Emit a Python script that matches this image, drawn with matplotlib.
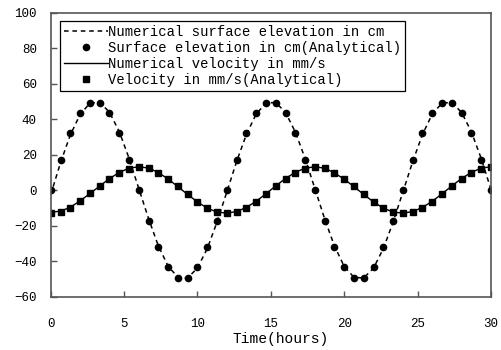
import matplotlib
matplotlib.use("Agg")
import matplotlib.pyplot as plt

plt.rcParams['font.family'] = ['Liberation Mono', 'DejaVu Sans Mono']

# time axis (hours), sampled every 40 minutes
hours = [0, 0.67, 1.33, 2, 2.67, 3.33, 4, 4.67, 5.33, 6, 6.67, 7.33, 8, 8.67, 9.33, 10,
         10.67, 11.33, 12, 12.67, 13.33, 14, 14.67, 15.33, 16, 16.67, 17.33, 18, 18.67,
         19.33, 20, 20.67, 21.33, 22, 22.67, 23.33, 24, 24.67, 25.33, 26, 26.67, 27.33,
         28, 28.67, 29.33, 30]

# analytical surface elevation (cm)
elev_ana = [0, 17.1, 32.1, 43.3, 49.2, 49.2, 43.3, 32.1, 17.1, 0, -17.1, -32.1, -43.3,
            -49.2, -49.2, -43.3, -32.1, -17.1, 0, 17.1, 32.1, 43.3, 49.2, 49.2, 43.3,
            32.1, 17.1, 0, -17.1, -32.1, -43.3, -49.2, -49.2, -43.3, -32.1, -17.1, 0,
            17.1, 32.1, 43.3, 49.2, 49.2, 43.3, 32.1, 17.1, 0]
# numerical surface elevation (cm)
elev_num = [-2.5, 15.5, 31.0, 42.6, 49.0, 49.5, 44.0, 33.0, 18.2, 1.0, -16.0, -31.2,
            -42.8, -49.0, -49.4, -43.8, -32.8, -18.0, -1.0, 16.2, 31.3, 42.9, 49.1,
            49.4, 43.8, 32.8, 18.0, 1.0, -16.2, -31.3, -42.9, -49.1, -49.4, -43.8,
            -32.8, -18.0, -1.0, 16.2, 31.3, 42.9, 49.1, 49.4, 43.8, 32.8, 18.0, 0.5]

# analytical velocity (mm/s)
vel_ana = [-12.6, -12.0, -9.9, -6.2, -1.8, 2.1, 6.4, 9.9, 12.2, 13.3, 12.4, 9.9, 6.4,
           2.2, -2.2, -6.4, -9.9, -12.1, -12.8, -12.1, -9.9, -6.4, -2.2, 2.2, 6.4, 9.9,
           12.2, 13.3, 12.4, 9.9, 6.4, 2.2, -2.2, -6.4, -9.9, -12.1, -12.8, -12.1, -9.9,
           -6.4, -2.2, 2.2, 6.4, 9.9, 12.2, 13.3]
# numerical velocity (mm/s)
vel_num = [-12.4, -11.8, -9.6, -6.0, -1.9, 2.3, 6.5, 10.0, 12.4, 13.2, 12.5, 10.0, 6.3,
           2.0, -2.4, -6.6, -10.1, -12.3, -12.9, -12.0, -9.7, -6.2, -2.0, 2.4, 6.6, 10.1,
           12.4, 13.2, 12.4, 9.8, 6.2, 2.0, -2.4, -6.6, -10.1, -12.3, -12.9, -12.0, -9.7,
           -6.2, -2.0, 2.4, 6.6, 10.1, 12.4, 13.2]

labels = ['Numerical surface elevation in cm',
          'Surface elevation in cm(Analytical)',
          'Numerical velocity in mm/s',
          'Velocity in mm/s(Analytical)']

fig = plt.figure(figsize=(5.02, 3.5), dpi=100)
ax = fig.add_axes([0.101, 0.152, 0.877, 0.812])

ax.plot(hours, elev_num, color='black', lw=1.1, linestyle=(0, (3, 2.5)), label=labels[0])
ax.plot(hours, elev_ana, 'o', color='black', ms=4.5, label=labels[1])
ax.plot(hours, vel_num, color='black', lw=1.0, label=labels[2])
ax.plot(hours, vel_ana, 's', color='black', ms=4.5, label=labels[3])

ax.set_xlim(0, 30)
ax.set_ylim(-60, 100)
ax.set_xticks([0, 5, 10, 15, 20, 25, 30])
ax.set_yticks(range(-60, 101, 20))
ax.tick_params(direction='in', length=4, width=1, color='#555555',
               labelsize=9, top=False, right=False)
ax.tick_params(axis='x', pad=15)
ax.tick_params(axis='y', pad=10)
for s in ax.spines.values():
    s.set_color('#555555')
    s.set_linewidth(1.2)

ax.set_xlabel('Time(hours)', fontsize=10.5, labelpad=0)
ax.xaxis.set_label_coords(0.523, -0.125)

leg = ax.legend(loc='upper left', bbox_to_anchor=(0.02, 0.97), fontsize=10,
                handlelength=3.2, handletextpad=0.0, labelspacing=0.14,
                borderpad=0.3, borderaxespad=0.0, fancybox=False, framealpha=1,
                edgecolor='black')
leg.get_frame().set_linewidth(0.9)

fig.savefig('out.png', dpi=100)
